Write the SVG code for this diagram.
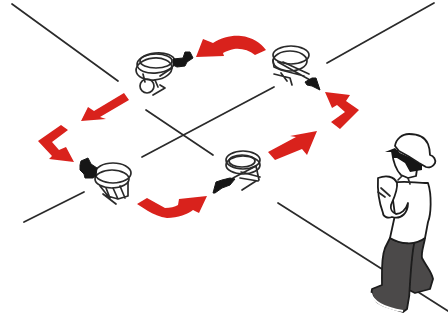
<svg xmlns="http://www.w3.org/2000/svg" width="448" height="322" viewBox="0 0 448 322">
<defs><filter id="soft" x="-5%" y="-5%" width="110%" height="110%"><feGaussianBlur stdDeviation="0.4"/></filter></defs>
<style>
.ln{stroke:#2a2a2a;stroke-width:1.7;fill:none;stroke-linecap:round}
.arw{fill:#d9201c;stroke:none}
.c{stroke:#2b2b2b;stroke-width:1.7;fill:none;stroke-linecap:round;stroke-linejoin:round}
.b{fill:#151515;stroke:#151515;stroke-width:1;stroke-linejoin:round}
.p{stroke:#1c1c1c;stroke-width:1.8;fill:#fff;stroke-linejoin:round;stroke-linecap:round}
.d{stroke:#1c1c1c;stroke-width:1.8;fill:#4b4949;stroke-linejoin:round}
g{filter:url(#soft)}
</style>
<rect width="448" height="322" fill="#fff"/>
<g id="connectors">
<path class="ln" d="M12 4L118 81M146 110L213 155M142 157L274 87M327 63L434 3M24 222L84 192M278 203L448 311"/>
<path class="arw" d="M196 57L203 39L213 43C222 37 233 35 241 36C252 37 261 43 266 50L255 55C249 50 241 48 234 49C230 50 226 51 223 53L224 56Z"/>
<path class="arw" d="M81 121L88 107L94 111L124 93L129 100L100 117L106 119Z"/>
<path class="arw" d="M38 141L61 125L68 130L52 142L59 150L66 147L74 162L49 159L52 156Z"/>
<path class="arw" d="M137 204L147 198L165 208C170 208 175 207 178 205L179 199L207 196L199 213L193 210C188 214 178 218 167 218C160 217 153 214 148 211Z"/>
<path class="arw" d="M268 152L296 137L290 136L317 131L307 155L302 149L275 160Z"/>
<path class="arw" d="M325 92L350 95L346 101L359 110L340 129L331 122L345 112L337 105L332 108Z"/>
</g>
<g id="clamp-top-left">
<ellipse class="c" cx="156" cy="63" rx="19" ry="10" transform="rotate(-6 156 63)"/>
<ellipse class="c" cx="154" cy="69" rx="18" ry="11" transform="rotate(-6 154 69)"/>
<ellipse class="c" cx="156" cy="61" rx="16" ry="7"/>
<path class="c" d="M143 74L145 82M155 80L158 87M172 68L160 76"/>
<ellipse class="c" cx="147" cy="86" rx="7" ry="7"/>
<path class="c" d="M153 95L165 88L160 85"/>
<path class="b" d="M173 59L183 58L185 52L190 52L193 58L187 62L185 66L177 67L173 65Z"/>
</g>
<g id="clamp-top-right">
<ellipse class="c" cx="291" cy="55" rx="18" ry="9"/>
<ellipse class="c" cx="290" cy="61" rx="17" ry="10"/>
<path class="c" d="M273 60L274 67L281 70L304 76M278 62L310 80M283 62L309 74M274 74L290 78L292 85M281 73L287 81"/>
<path class="b" d="M305 82L312 78L316 78L320 90L312 86L307 85Z"/>
</g>
<g id="clamp-left">
<ellipse class="c" cx="113" cy="173" rx="18" ry="10"/>
<ellipse class="c" cx="112" cy="179" rx="17" ry="9"/>
<path class="c" d="M100 186L108 196M106 188L110 198M113 188L118 199M120 186L125 198M128 182L128 196L118 199L104 195M103 194L116 204"/>
<path class="b" d="M81 161L88 158L91 164L97 168L96 176L93 178L85 178L84 174L80 170L80 165Z"/>
</g>
<g id="clamp-bottom">
<ellipse class="c" cx="243" cy="160" rx="17" ry="9"/>
<ellipse class="c" cx="243" cy="165" rx="17" ry="9"/>
<ellipse class="c" cx="242" cy="161" rx="13" ry="6"/>
<path class="c" d="M233 178L256 166L259 180M241 172L260 177M240 178L258 181M242 190L256 181"/>
<path class="b" d="M216 182L222 180L230 178L235 179L230 185L222 188L215 193L213 193Z"/>
</g>
<g id="person">
<path class="d" d="M413 232L425 238C424 245 421 252 422 258C426 266 432 272 433 279L430 289L415 293L405 288Z"/>
<path class="d" d="M390 238C400 244 412 244 415 240C412 250 411 270 410 283C410 290 409 300 407 309L403 312C395 309 383 307 377 302C372 297 371 292 372 289L382 285C382 272 381 258 385 248Z"/>
<path d="M371 293C373 303 385 308 403 311" stroke="#fff" stroke-width="2" fill="none"/>
<path class="p" d="M392 183C404 180 414 183 428 183C432 195 431 215 428 222L425 238C415 246 400 244 390 238L395 215L393 200Z"/>
<path class="p" d="M378 178C386 175 394 176 397 183C398 190 394 198 391 205C390 210 392 212 396 214C401 214 406 210 408 203C408 212 402 220 392 217C387 219 383 216 383 213C380 205 377 195 378 178Z"/>
<path class="c" d="M381 188L390 196M378 192L385 197"/>
<path class="p" d="M392 152C393 160 396 170 401 175L408 178L416 176L418 162L400 150Z"/>
<path d="M385 152L395 148L400 153L422 163L422 170L410 172L405 163L397 158L393 158L392 152Z" fill="#141414"/>
<path class="p" d="M395 146C396 139 402 134 409 134C417 134 425 137 428 144C430 149 430 153 430 155C434 156 436 160 435 163C433 167 429 168 426 167L419 163L408 156L399 151Z"/>
<path class="c" d="M408 178L410 184M398 180L402 176"/>
</g>
</svg>
